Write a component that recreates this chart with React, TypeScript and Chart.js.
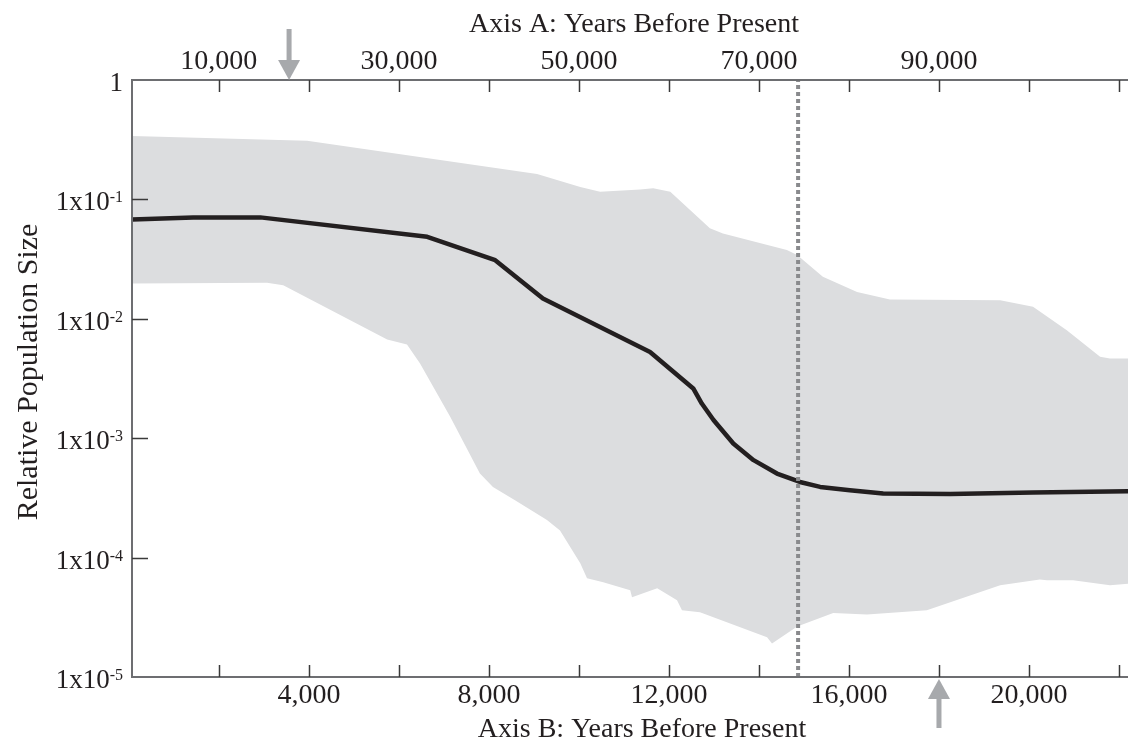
import React, { useEffect, useRef } from 'react';
import { Chart, registerables } from 'chart.js';

Chart.register(...registerables);

// ---- Data (Axis B: years before present) ----
const lineYears = [70, 1430, 2920, 6630, 8140, 9200, 11580, 12540, 12730, 12990, 13430, 13880, 14400, 14910, 15360, 16020, 16760, 18250, 20090, 22200];
const lineValues = [0.068, 0.0707, 0.0707, 0.0486, 0.031, 0.0148, 0.00528, 0.00261, 0.00195, 0.00142, 0.000902, 0.000655, 0.000506, 0.00043, 0.000391, 0.000367, 0.000344, 0.000341, 0.000351, 0.00036];

const upperYears = [70, 3960, 9070, 10030, 10470, 11360, 11650, 12030, 12470, 12910, 13200, 14620, 14850, 15420, 16180, 16910, 19360, 20090, 20840, 21580, 21800, 22200];
const upperValues = [0.34, 0.31, 0.163, 0.127, 0.116, 0.121, 0.124, 0.116, 0.0814, 0.0572, 0.0519, 0.0376, 0.0342, 0.0225, 0.0168, 0.0145, 0.0143, 0.0126, 0.00803, 0.0048, 0.00466, 0.00466];

const lowerYears = [70, 3070, 3430, 5740, 6180, 6470, 7140, 7800, 8090, 8580, 9290, 9580, 10030, 10180, 10540, 11140, 11180, 11740, 12180, 12290, 12690, 14180, 14290, 14850, 15650, 16400, 17730, 19360, 20240, 20400, 20980, 21800, 22200];
const lowerValues = [0.0198, 0.02, 0.0191, 0.00671, 0.0061, 0.00423, 0.00151, 0.000506, 0.000391, 0.000302, 0.000206, 0.000169, 0.0000896, 0.0000671, 0.0000621, 0.0000532, 0.0000465, 0.0000553, 0.0000439, 0.0000362, 0.0000348, 0.0000215, 0.0000191, 0.0000265, 0.0000343, 0.0000333, 0.0000362, 0.0000586, 0.0000654, 0.0000646, 0.0000646, 0.0000586, 0.0000605];

const markerYear = 14870; // dotted vertical line (Axis B)

// Axes
const xMin = 70;
const xMax = 22200;
const yMin = 1e-5;
const yMax = 1;
const axisARatio = 5; // Axis A years = 5 x Axis B years

const bottomTicks = [2000, 4000, 6000, 8000, 10000, 12000, 14000, 16000, 18000, 20000, 22000];
const bottomLabelValues = [4000, 8000, 12000, 16000, 20000];
const bottomLabels = ['4,000', '8,000', '12,000', '16,000', '20,000'];

const topTicks = [10000, 20000, 30000, 40000, 50000, 60000, 70000, 80000, 90000, 100000, 110000];
const topLabelValues = [10000, 30000, 50000, 70000, 90000];
const topLabels = ['10,000', '30,000', '50,000', '70,000', '90,000'];

const yTicks = [1, 1e-1, 1e-2, 1e-3, 1e-4, 1e-5];
const yTickMain = ['1', '1x10', '1x10', '1x10', '1x10', '1x10'];
const yTickSup = ['', '-1', '-2', '-3', '-4', '-5'];

const arrowTopA = 17800; // Axis A years
const arrowBottomB = 18000; // Axis B years

const titleTop = 'Axis A: Years Before Present';
const titleBottom = 'Axis B: Years Before Present';
const titleY = 'Relative Population Size';

const FONT = '"Liberation Serif", "Times New Roman", serif';
const TEXT = '#231f20';

const axesPlugin = {
  id: 'customAxes',
  afterDraw(chart: any) {
    const { ctx, chartArea: a, scales } = chart;
    const xs = scales.x;
    const ys = scales.y;
    ctx.save();

    // axis lines
    ctx.strokeStyle = '#6d6e71';
    ctx.lineWidth = 2;
    ctx.beginPath();
    ctx.moveTo(a.left - 1, a.top);
    ctx.lineTo(a.right, a.top);
    ctx.moveTo(a.left - 1, a.bottom);
    ctx.lineTo(a.right, a.bottom);
    ctx.moveTo(a.left, a.top);
    ctx.lineTo(a.left, a.bottom);
    ctx.stroke();

    // ticks
    ctx.strokeStyle = '#3a3a3a';
    ctx.lineWidth = 1.5;
    ctx.beginPath();
    topTicks.forEach((v) => {
      const x = Math.round(xs.getPixelForValue(v / axisARatio)) + 0.5;
      ctx.moveTo(x, a.top);
      ctx.lineTo(x, a.top + 12);
    });
    bottomTicks.forEach((v) => {
      const x = Math.round(xs.getPixelForValue(v)) + 0.5;
      ctx.moveTo(x, a.bottom);
      ctx.lineTo(x, a.bottom - 12);
    });
    yTicks.forEach((v) => {
      if (v === yMax || v === yMin) return;
      const y = Math.round(ys.getPixelForValue(v)) + 0.5;
      ctx.moveTo(a.left, y);
      ctx.lineTo(a.left + 16, y);
    });
    ctx.stroke();

    // labels
    ctx.fillStyle = TEXT;
    ctx.font = `28px ${FONT}`;
    ctx.textAlign = 'center';
    ctx.textBaseline = 'alphabetic';
    topLabelValues.forEach((v, i) => {
      ctx.fillText(topLabels[i], xs.getPixelForValue(v / axisARatio), a.top - 11);
    });
    bottomLabelValues.forEach((v, i) => {
      ctx.fillText(bottomLabels[i], xs.getPixelForValue(v), a.bottom + 26);
    });

    // y labels with superscripts
    ctx.textAlign = 'left';
    yTicks.forEach((v, i) => {
      const y = ys.getPixelForValue(v);
      ctx.font = `27px ${FONT}`;
      const wMain = ctx.measureText(yTickMain[i]).width;
      ctx.font = `16px ${FONT}`;
      const wSup = yTickSup[i] ? ctx.measureText(yTickSup[i]).width : 0;
      const right = a.left - 9;
      const x0 = right - wMain - wSup;
      ctx.font = `27px ${FONT}`;
      ctx.fillText(yTickMain[i], x0, y + 11);
      if (yTickSup[i]) {
        ctx.font = `16px ${FONT}`;
        ctx.fillText(yTickSup[i], x0 + wMain, y + 3);
      }
    });

    // titles
    ctx.font = `28px ${FONT}`;
    ctx.textAlign = 'center';
    ctx.fillText(titleTop, (a.left + a.right) / 2 + 4, 32);
    ctx.fillText(titleBottom, (a.left + a.right) / 2 + 12, 737);
    ctx.save();
    ctx.translate(37, 372);
    ctx.rotate(-Math.PI / 2);
    ctx.font = `30px ${FONT}`;
    ctx.fillText(titleY, 0, 0);
    ctx.restore();

    // arrows
    ctx.fillStyle = '#a7a9ac';
    const xa = xs.getPixelForValue(arrowTopA / axisARatio);
    ctx.fillRect(xa - 2.5, 29, 5, 33);
    ctx.beginPath();
    ctx.moveTo(xa - 11, 60);
    ctx.lineTo(xa + 11, 60);
    ctx.lineTo(xa, a.top);
    ctx.closePath();
    ctx.fill();

    const xb = xs.getPixelForValue(arrowBottomB);
    ctx.fillRect(xb - 2.5, a.bottom + 20, 5, 31);
    ctx.beginPath();
    ctx.moveTo(xb - 11, a.bottom + 22);
    ctx.lineTo(xb + 11, a.bottom + 22);
    ctx.lineTo(xb, a.bottom + 2);
    ctx.closePath();
    ctx.fill();

    ctx.restore();
  },
};

export default function App() {
  const ref = useRef<HTMLCanvasElement | null>(null);

  useEffect(() => {
    if (!ref.current) return;
    const band = [
      ...upperYears.map((x, i) => ({ x, y: upperValues[i] })),
      ...lowerYears.map((x, i) => ({ x, y: lowerValues[i] })).reverse(),
    ];
    const mean = lineYears.map((x, i) => ({ x, y: lineValues[i] }));
    const marker = [
      { x: markerYear, y: yMin },
      { x: markerYear, y: yMax },
    ];
    const chart = new Chart(ref.current, {
      type: 'line',
      data: {
        datasets: [
          {
            label: 'marker',
            data: marker,
            borderColor: '#898a8d',
            borderWidth: 4,
            borderDash: [4, 3],
            pointRadius: 0,
            fill: false,
            order: 0,
          },
          {
            label: 'mean',
            data: mean,
            borderColor: '#231f20',
            borderWidth: 4.5,
            pointRadius: 0,
            tension: 0,
            fill: false,
            borderJoinStyle: 'round',
            order: 1,
          },
          {
            label: 'band',
            data: band,
            borderWidth: 0,
            borderColor: 'rgba(0,0,0,0)',
            backgroundColor: '#dcdddf',
            pointRadius: 0,
            tension: 0,
            fill: 'shape',
            order: 2,
          } as any,
        ],
      },
      options: {
        animation: false,
        responsive: false,
        maintainAspectRatio: false,
        layout: { padding: { left: 132, top: 80, right: 0, bottom: 67 } },
        plugins: {
          legend: { display: false },
          tooltip: { enabled: false },
        },
        scales: {
          x: { type: 'linear', min: xMin, max: xMax, display: false },
          y: { type: 'logarithmic', min: yMin, max: yMax, display: false },
        },
      },
      plugins: [axesPlugin],
    });
    return () => chart.destroy();
  }, []);

  return (
    <div style={{ position: 'fixed', left: 0, top: 0, width: 1128, height: 744, background: '#ffffff' }}>
      <canvas ref={ref} width={1128} height={744} style={{ width: 1128, height: 744, display: 'block' }} />
    </div>
  );
}
